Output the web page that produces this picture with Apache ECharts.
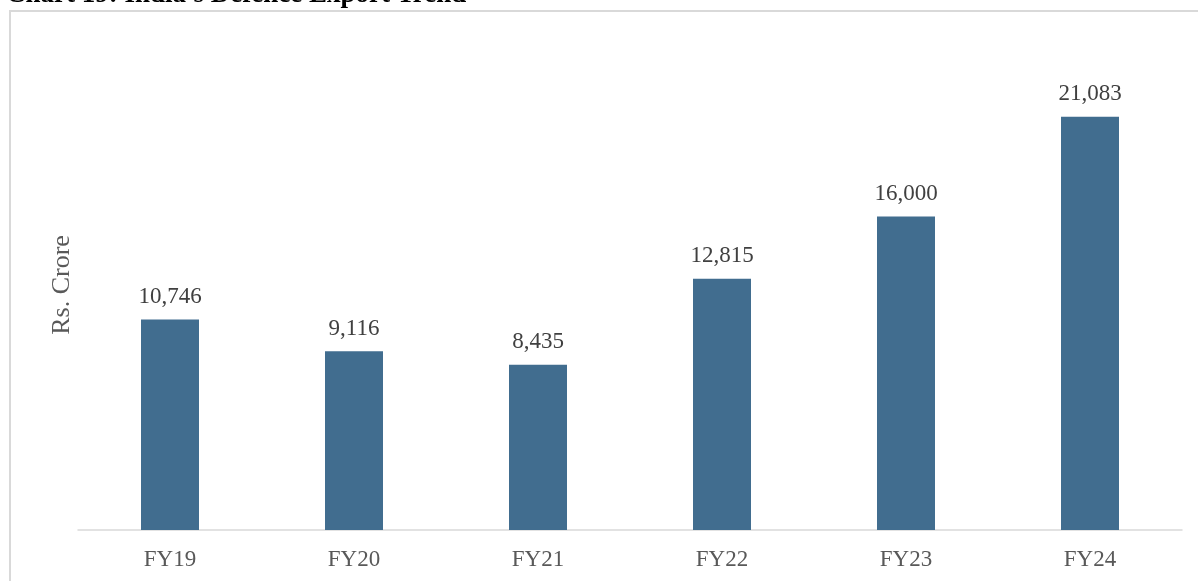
<!DOCTYPE html>
<html>
<head>
<meta charset="utf-8">
<script src="https://cdn.jsdelivr.net/npm/echarts@6/dist/echarts.min.js"></script>
<style>
  html, body { margin: 0; padding: 0; background: #fff; }
  #chart { width: 1198px; height: 581px; }
</style>
</head>
<body>
<div id="chart"></div>
<script>
// data
const years = ['FY19', 'FY20', 'FY21', 'FY22', 'FY23', 'FY24']
const exportValues = [10746, 9116, 8435, 12815, 16000, 21083]

const serif = 'Liberation Serif, Times New Roman, serif'
const chart = echarts.init(document.getElementById('chart'))

chart.setOption({
  animation: false,
  title: {
    text: "Chart 19: India's Defence Export Trend",
    left: 1,
    top: -23,
    textStyle: { fontFamily: serif, fontSize: 27, fontWeight: 'bold', color: '#000' }
  },
  graphic: [
    {
      type: 'rect',
      shape: { x: 10, y: 11, width: 1200, height: 600 },
      style: { fill: 'none', stroke: '#d9d9d9', lineWidth: 2 }
    }
  ],
  grid: { left: 78, right: 16, top: 40, bottom: 51 },
  xAxis: {
    type: 'category',
    data: years,
    axisTick: { show: false },
    axisLine: { lineStyle: { color: '#d9d9d9', width: 1.5 } },
    axisLabel: { fontFamily: serif, fontSize: 23, color: '#595959', margin: 18 }
  },
  yAxis: {
    type: 'value',
    min: 0,
    max: 25000,
    name: 'Rs. Crore',
    nameLocation: 'middle',
    nameGap: 3,
    nameTextStyle: { fontFamily: serif, fontSize: 26, color: '#595959' },
    axisLabel: { show: false },
    axisLine: { show: false },
    axisTick: { show: false },
    splitLine: { show: false }
  },
  series: [
    {
      type: 'bar',
      data: exportValues,
      barWidth: 58,
      itemStyle: { color: '#416d8f' },
      label: {
        show: true,
        position: 'top',
        distance: 11,
        fontFamily: serif,
        fontSize: 23,
        color: '#404040',
        formatter: p => p.value.toLocaleString('en-US')
      }
    }
  ]
})
</script>
</body>
</html>
